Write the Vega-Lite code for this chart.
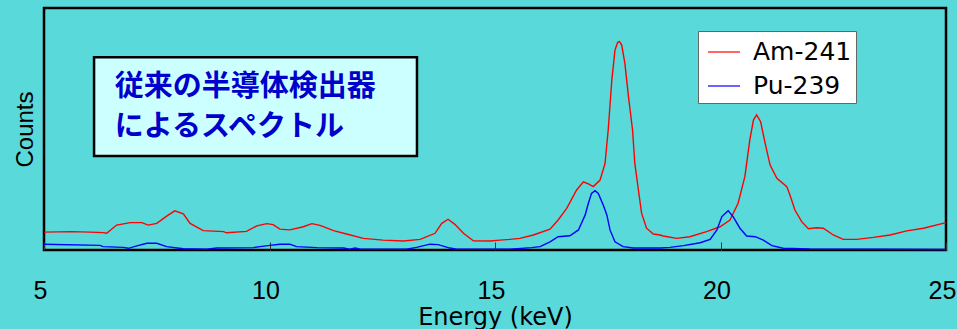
{
  "$schema": "https://vega.github.io/schema/vega-lite/v6.json",
  "width": 902,
  "height": 242,
  "autosize": {"type": "none"},
  "padding": {"left": 44, "top": 8, "right": 11, "bottom": 79},
  "background": "#5ad9da",
  "config": {
    "view": {"stroke": "#000000", "strokeWidth": 2.5, "fill": null},
    "font": "Liberation Sans"
  },
  "datasets": {
    "box": [{"energy": 6.11, "energy_end": 13.27, "counts": 388, "counts_end": 797}],
    "caption": [
      {"line": "従来の半導体検出器", "energy": 6.57, "counts": 675},
      {"line": "によるスペクトル", "energy": 6.57, "counts": 510}
    ],
    "spectra": [
      {"isotope": "Am-241", "energy": 5.00, "counts": 74},
      {"isotope": "Am-241", "energy": 5.61, "counts": 76},
      {"isotope": "Am-241", "energy": 6.02, "counts": 74},
      {"isotope": "Am-241", "energy": 6.31, "counts": 72},
      {"isotope": "Am-241", "energy": 6.39, "counts": 69},
      {"isotope": "Am-241", "energy": 6.61, "counts": 103},
      {"isotope": "Am-241", "energy": 6.91, "counts": 113},
      {"isotope": "Am-241", "energy": 7.17, "counts": 113},
      {"isotope": "Am-241", "energy": 7.31, "counts": 103},
      {"isotope": "Am-241", "energy": 7.50, "counts": 110},
      {"isotope": "Am-241", "energy": 7.72, "counts": 140},
      {"isotope": "Am-241", "energy": 7.90, "counts": 162},
      {"isotope": "Am-241", "energy": 8.09, "counts": 149},
      {"isotope": "Am-241", "energy": 8.24, "counts": 110},
      {"isotope": "Am-241", "energy": 8.53, "counts": 80},
      {"isotope": "Am-241", "energy": 8.98, "counts": 76},
      {"isotope": "Am-241", "energy": 9.05, "counts": 71},
      {"isotope": "Am-241", "energy": 9.49, "counts": 77},
      {"isotope": "Am-241", "energy": 9.72, "counts": 100},
      {"isotope": "Am-241", "energy": 9.94, "counts": 109},
      {"isotope": "Am-241", "energy": 10.08, "counts": 105},
      {"isotope": "Am-241", "energy": 10.23, "counts": 86},
      {"isotope": "Am-241", "energy": 10.45, "counts": 83},
      {"isotope": "Am-241", "energy": 10.75, "counts": 96},
      {"isotope": "Am-241", "energy": 10.94, "counts": 109},
      {"isotope": "Am-241", "energy": 11.12, "counts": 102},
      {"isotope": "Am-241", "energy": 11.42, "counts": 80},
      {"isotope": "Am-241", "energy": 11.71, "counts": 66},
      {"isotope": "Am-241", "energy": 12.08, "counts": 48},
      {"isotope": "Am-241", "energy": 12.52, "counts": 41},
      {"isotope": "Am-241", "energy": 12.97, "counts": 37},
      {"isotope": "Am-241", "energy": 13.34, "counts": 44},
      {"isotope": "Am-241", "energy": 13.67, "counts": 69},
      {"isotope": "Am-241", "energy": 13.82, "counts": 110},
      {"isotope": "Am-241", "energy": 13.96, "counts": 127},
      {"isotope": "Am-241", "energy": 14.11, "counts": 106},
      {"isotope": "Am-241", "energy": 14.30, "counts": 69},
      {"isotope": "Am-241", "energy": 14.52, "counts": 38},
      {"isotope": "Am-241", "energy": 14.89, "counts": 37},
      {"isotope": "Am-241", "energy": 15.11, "counts": 41},
      {"isotope": "Am-241", "energy": 15.33, "counts": 44},
      {"isotope": "Am-241", "energy": 15.55, "counts": 48},
      {"isotope": "Am-241", "energy": 15.85, "counts": 62},
      {"isotope": "Am-241", "energy": 16.22, "counts": 86},
      {"isotope": "Am-241", "energy": 16.40, "counts": 124},
      {"isotope": "Am-241", "energy": 16.59, "counts": 172},
      {"isotope": "Am-241", "energy": 16.81, "counts": 248},
      {"isotope": "Am-241", "energy": 16.96, "counts": 282},
      {"isotope": "Am-241", "energy": 17.07, "counts": 273},
      {"isotope": "Am-241", "energy": 17.18, "counts": 262},
      {"isotope": "Am-241", "energy": 17.33, "counts": 289},
      {"isotope": "Am-241", "energy": 17.44, "counts": 358},
      {"isotope": "Am-241", "energy": 17.51, "counts": 496},
      {"isotope": "Am-241", "energy": 17.59, "counts": 702},
      {"isotope": "Am-241", "energy": 17.66, "counts": 826},
      {"isotope": "Am-241", "energy": 17.72, "counts": 858},
      {"isotope": "Am-241", "energy": 17.76, "counts": 861},
      {"isotope": "Am-241", "energy": 17.81, "counts": 847},
      {"isotope": "Am-241", "energy": 17.88, "counts": 771},
      {"isotope": "Am-241", "energy": 17.96, "counts": 633},
      {"isotope": "Am-241", "energy": 18.05, "counts": 496},
      {"isotope": "Am-241", "energy": 18.10, "counts": 358},
      {"isotope": "Am-241", "energy": 18.18, "counts": 248},
      {"isotope": "Am-241", "energy": 18.25, "counts": 152},
      {"isotope": "Am-241", "energy": 18.36, "counts": 90},
      {"isotope": "Am-241", "energy": 18.51, "counts": 66},
      {"isotope": "Am-241", "energy": 18.66, "counts": 62},
      {"isotope": "Am-241", "energy": 18.73, "counts": 58},
      {"isotope": "Am-241", "energy": 19.03, "counts": 48},
      {"isotope": "Am-241", "energy": 19.32, "counts": 55},
      {"isotope": "Am-241", "energy": 19.69, "counts": 76},
      {"isotope": "Am-241", "energy": 19.99, "counts": 96},
      {"isotope": "Am-241", "energy": 20.21, "counts": 124},
      {"isotope": "Am-241", "energy": 20.39, "counts": 193},
      {"isotope": "Am-241", "energy": 20.54, "counts": 303},
      {"isotope": "Am-241", "energy": 20.65, "counts": 455},
      {"isotope": "Am-241", "energy": 20.73, "counts": 537},
      {"isotope": "Am-241", "energy": 20.80, "counts": 558},
      {"isotope": "Am-241", "energy": 20.89, "counts": 530},
      {"isotope": "Am-241", "energy": 20.99, "counts": 441},
      {"isotope": "Am-241", "energy": 21.10, "counts": 351},
      {"isotope": "Am-241", "energy": 21.25, "counts": 296},
      {"isotope": "Am-241", "energy": 21.47, "counts": 262},
      {"isotope": "Am-241", "energy": 21.54, "counts": 227},
      {"isotope": "Am-241", "energy": 21.65, "counts": 165},
      {"isotope": "Am-241", "energy": 21.80, "counts": 117},
      {"isotope": "Am-241", "energy": 21.95, "counts": 88},
      {"isotope": "Am-241", "energy": 22.13, "counts": 92},
      {"isotope": "Am-241", "energy": 22.28, "counts": 90},
      {"isotope": "Am-241", "energy": 22.50, "counts": 62},
      {"isotope": "Am-241", "energy": 22.72, "counts": 44},
      {"isotope": "Am-241", "energy": 23.02, "counts": 44},
      {"isotope": "Am-241", "energy": 23.39, "counts": 52},
      {"isotope": "Am-241", "energy": 23.76, "counts": 62},
      {"isotope": "Am-241", "energy": 24.13, "counts": 79},
      {"isotope": "Am-241", "energy": 24.50, "counts": 90},
      {"isotope": "Am-241", "energy": 25.00, "counts": 113},
      {"isotope": "Pu-239", "energy": 5.00, "counts": 24},
      {"isotope": "Pu-239", "energy": 6.24, "counts": 19},
      {"isotope": "Pu-239", "energy": 6.31, "counts": 14},
      {"isotope": "Pu-239", "energy": 6.76, "counts": 11},
      {"isotope": "Pu-239", "energy": 6.87, "counts": 7},
      {"isotope": "Pu-239", "energy": 7.06, "counts": 17},
      {"isotope": "Pu-239", "energy": 7.28, "counts": 28},
      {"isotope": "Pu-239", "energy": 7.50, "counts": 28},
      {"isotope": "Pu-239", "energy": 7.72, "counts": 14},
      {"isotope": "Pu-239", "energy": 8.09, "counts": 5},
      {"isotope": "Pu-239", "energy": 8.61, "counts": 3},
      {"isotope": "Pu-239", "energy": 8.83, "counts": 8},
      {"isotope": "Pu-239", "energy": 9.64, "counts": 10},
      {"isotope": "Pu-239", "energy": 9.79, "counts": 14},
      {"isotope": "Pu-239", "energy": 10.01, "counts": 19},
      {"isotope": "Pu-239", "energy": 10.23, "counts": 24},
      {"isotope": "Pu-239", "energy": 10.45, "counts": 24},
      {"isotope": "Pu-239", "energy": 10.60, "counts": 14},
      {"isotope": "Pu-239", "energy": 11.05, "counts": 10},
      {"isotope": "Pu-239", "energy": 11.64, "counts": 8},
      {"isotope": "Pu-239", "energy": 11.78, "counts": 3},
      {"isotope": "Pu-239", "energy": 11.90, "counts": 8},
      {"isotope": "Pu-239", "energy": 12.01, "counts": 3},
      {"isotope": "Pu-239", "energy": 13.04, "counts": 3},
      {"isotope": "Pu-239", "energy": 13.26, "counts": 11},
      {"isotope": "Pu-239", "energy": 13.56, "counts": 24},
      {"isotope": "Pu-239", "energy": 13.74, "counts": 22},
      {"isotope": "Pu-239", "energy": 14.00, "counts": 8},
      {"isotope": "Pu-239", "energy": 14.15, "counts": 3},
      {"isotope": "Pu-239", "energy": 15.33, "counts": 3},
      {"isotope": "Pu-239", "energy": 15.81, "counts": 10},
      {"isotope": "Pu-239", "energy": 16.00, "counts": 14},
      {"isotope": "Pu-239", "energy": 16.22, "counts": 34},
      {"isotope": "Pu-239", "energy": 16.40, "counts": 55},
      {"isotope": "Pu-239", "energy": 16.66, "counts": 59},
      {"isotope": "Pu-239", "energy": 16.85, "counts": 83},
      {"isotope": "Pu-239", "energy": 17.00, "counts": 145},
      {"isotope": "Pu-239", "energy": 17.07, "counts": 193},
      {"isotope": "Pu-239", "energy": 17.14, "counts": 234},
      {"isotope": "Pu-239", "energy": 17.22, "counts": 245},
      {"isotope": "Pu-239", "energy": 17.29, "counts": 234},
      {"isotope": "Pu-239", "energy": 17.40, "counts": 186},
      {"isotope": "Pu-239", "energy": 17.48, "counts": 145},
      {"isotope": "Pu-239", "energy": 17.55, "counts": 83},
      {"isotope": "Pu-239", "energy": 17.66, "counts": 34},
      {"isotope": "Pu-239", "energy": 17.84, "counts": 14},
      {"isotope": "Pu-239", "energy": 18.07, "counts": 8},
      {"isotope": "Pu-239", "energy": 18.66, "counts": 8},
      {"isotope": "Pu-239", "energy": 18.88, "counts": 11},
      {"isotope": "Pu-239", "energy": 19.18, "counts": 18},
      {"isotope": "Pu-239", "energy": 19.55, "counts": 30},
      {"isotope": "Pu-239", "energy": 19.77, "counts": 44},
      {"isotope": "Pu-239", "energy": 19.92, "counts": 83},
      {"isotope": "Pu-239", "energy": 20.03, "counts": 138},
      {"isotope": "Pu-239", "energy": 20.17, "counts": 162},
      {"isotope": "Pu-239", "energy": 20.28, "counts": 138},
      {"isotope": "Pu-239", "energy": 20.43, "counts": 90},
      {"isotope": "Pu-239", "energy": 20.58, "counts": 58},
      {"isotope": "Pu-239", "energy": 20.77, "counts": 55},
      {"isotope": "Pu-239", "energy": 20.95, "counts": 41},
      {"isotope": "Pu-239", "energy": 21.14, "counts": 18},
      {"isotope": "Pu-239", "energy": 21.39, "counts": 7},
      {"isotope": "Pu-239", "energy": 21.98, "counts": 4},
      {"isotope": "Pu-239", "energy": 25.00, "counts": 2}
    ]
  },
  "encoding": {
    "x": {
      "field": "energy", "type": "quantitative",
      "scale": {"domain": [5, 25], "nice": false},
      "axis": {
        "title": "Energy (keV)", "values": [5, 10, 15, 20, 25], "domain": false, "grid": false,
        "tickSize": -8, "tickColor": "#333333", "tickWidth": 1,
        "labelPadding": 56, "labelFontSize": 25, "labelColor": "#000000", "labelBaseline": "alphabetic",
        "labelFlush": false, "labelOffset": -4, "labelFont": "Liberation Sans",
        "titleFontSize": 24, "titleFontWeight": "normal", "titleColor": "#000000", "titleFont": "DejaVu Sans",
        "titleBaseline": "alphabetic", "titleY": 74
      }
    },
    "y": {
      "field": "counts", "type": "quantitative",
      "scale": {"domain": [0, 1000], "nice": false},
      "axis": {
        "title": "Counts", "labels": false, "ticks": false, "domain": false, "grid": false,
        "titleFontSize": 24, "titleFontWeight": "normal", "titleColor": "#000000", "titleFont": "Liberation Sans",
        "titleX": -12, "titleY": 121, "titleAlign": "center", "titleBaseline": "alphabetic", "titleAngle": 270
      }
    }
  },
  "layer": [
    {
      "data": {"name": "box"},
      "mark": {"type": "rect", "fill": "#ccffff", "stroke": "#000000", "strokeWidth": 2.5},
      "encoding": {
        "x2": {"field": "energy_end"},
        "y2": {"field": "counts_end"}
      }
    },
    {
      "data": {"name": "caption"},
      "mark": {"type": "text", "align": "left", "baseline": "middle", "font": "Noto Sans CJK JP", "fontWeight": "bold", "fontSize": 29, "color": "#0000cc"},
      "encoding": {
        "text": {"field": "line", "type": "nominal"}
      }
    },
    {
      "data": {"name": "spectra"},
      "mark": {"type": "line", "strokeWidth": 1.4},
      "encoding": {
        "color": {
          "field": "isotope", "type": "nominal",
          "scale": {"domain": ["Am-241", "Pu-239"], "range": ["#ff0000", "#0000ff"]},
          "legend": {
            "orient": "none", "legendX": 654, "legendY": 23, "title": null,
            "fillColor": "#ffffff", "strokeColor": "#666666", "padding": 4,
            "symbolType": "stroke", "symbolSize": 1024, "symbolStrokeWidth": 1.2, "symbolOffset": 5,
            "labelFontSize": 25, "labelOffset": 12, "rowPadding": 4,
            "labelColor": "#000000", "labelFont": "DejaVu Sans"
          }
        }
      }
    }
  ]
}
